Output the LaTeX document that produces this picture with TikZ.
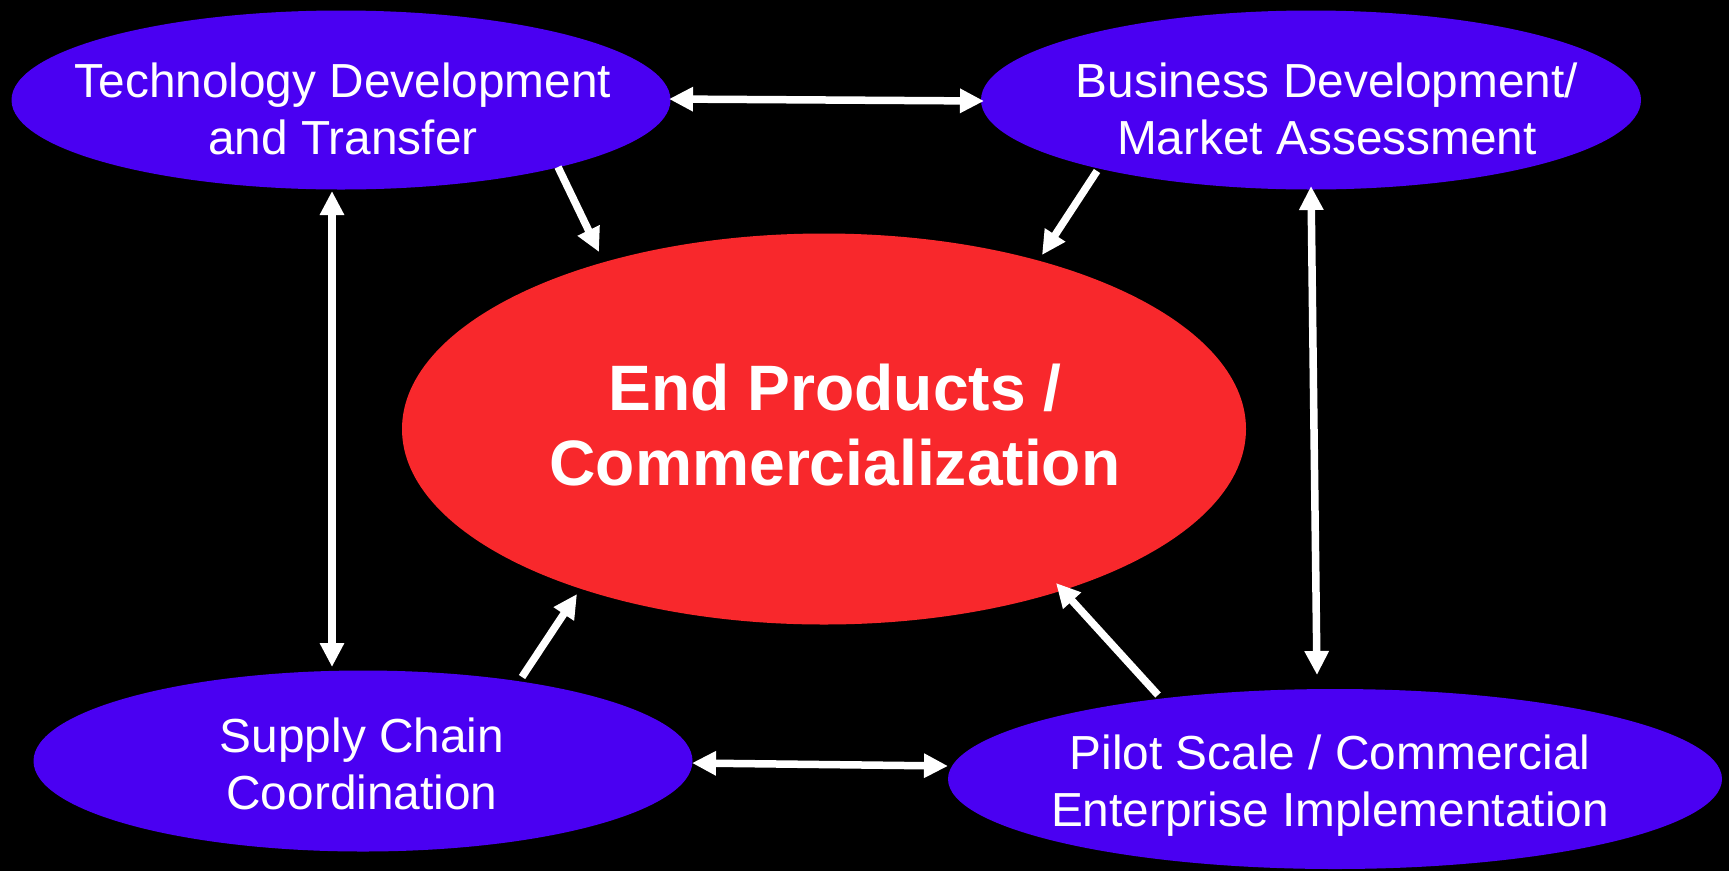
\documentclass[tikz,border=0pt]{standalone}
\usepackage{fontspec}
\setmainfont{Liberation Sans}
\usetikzlibrary{shapes.geometric,arrows.meta}
\definecolor{blueE}{RGB}{74,0,242}
\definecolor{redE}{RGB}{248,40,44}
\begin{document}
\begin{tikzpicture}[x=1pt,y=-1pt,
  blob/.style={ellipse, fill=blueE, inner sep=0pt, draw=none},
  core/.style={ellipse, fill=redE, inner sep=0pt, draw=none},
  lbl/.style={text=white, align=center, inner sep=0pt, anchor=base, font=\fontsize{47.8}{57}\selectfont},
  corelbl/.style={text=white, align=center, inner sep=0pt, anchor=base, font=\fontsize{64.2}{75}\selectfont\bfseries},
  link/.style={draw=white, line width=7.5pt, {Triangle[length=24pt,width=23pt]}-{Triangle[length=24pt,width=23pt]}},
  feed/.style={draw=white, line width=7.5pt, -{Triangle[length=24pt,width=23pt]}}]
\fill[black] (0,0) rectangle (1729,871);
\useasboundingbox (0,0) rectangle (1729,871);
% ellipses
\node[blob, minimum width=659pt, minimum height=179pt] (tl) at (341,100) {};
\node[blob, minimum width=660pt, minimum height=179pt] (tr) at (1311,100) {};
\node[blob, minimum width=659pt, minimum height=181pt] (bl) at (363,761) {};
\node[blob, minimum width=774pt, minimum height=180pt] (br) at (1335,779) {};
\node[core, minimum width=844pt, minimum height=391pt] (ce) at (824,429) {};
% labels (anchor = baseline of the last line)
\node[lbl] (tltext) at (343,154) {Technology Development\\and Transfer};
\node[lbl] (trtext) at (1327,154) {Business Development/\\Market Assessment};
\node[lbl] (bltext) at (362,809) {Supply Chain\\Coordination};
\node[lbl] (brtext) at (1330,826) {Pilot Scale / Commercial\\Enterprise Implementation};
\node[corelbl] (cetext) at (835,485) {End Products /\\Commercialization};
% connector end points
\coordinate (a1) at (669,99);  \coordinate (a2) at (984,101);
\coordinate (b1) at (332,191); \coordinate (b2) at (332,667);
\coordinate (c1) at (1311,186); \coordinate (c2) at (1317,675);
\coordinate (d1) at (692,763); \coordinate (d2) at (948,766);
\coordinate (e1) at (558,167); \coordinate (e2) at (599,252);
\coordinate (f1) at (1097,171); \coordinate (f2) at (1042,255);
\coordinate (g1) at (522,677); \coordinate (g2) at (577,594);
\coordinate (h1) at (1158,695); \coordinate (h2) at (1056,583);
% connectors
\draw[link] (a1) -- (a2);
\draw[link] (b1) -- (b2);
\draw[link] (c1) -- (c2);
\draw[link] (d1) -- (d2);
\draw[feed] (e1) -- (e2);
\draw[feed] (f1) -- (f2);
\draw[feed] (g1) -- (g2);
\draw[feed] (h1) -- (h2);
\end{tikzpicture}
\end{document}
